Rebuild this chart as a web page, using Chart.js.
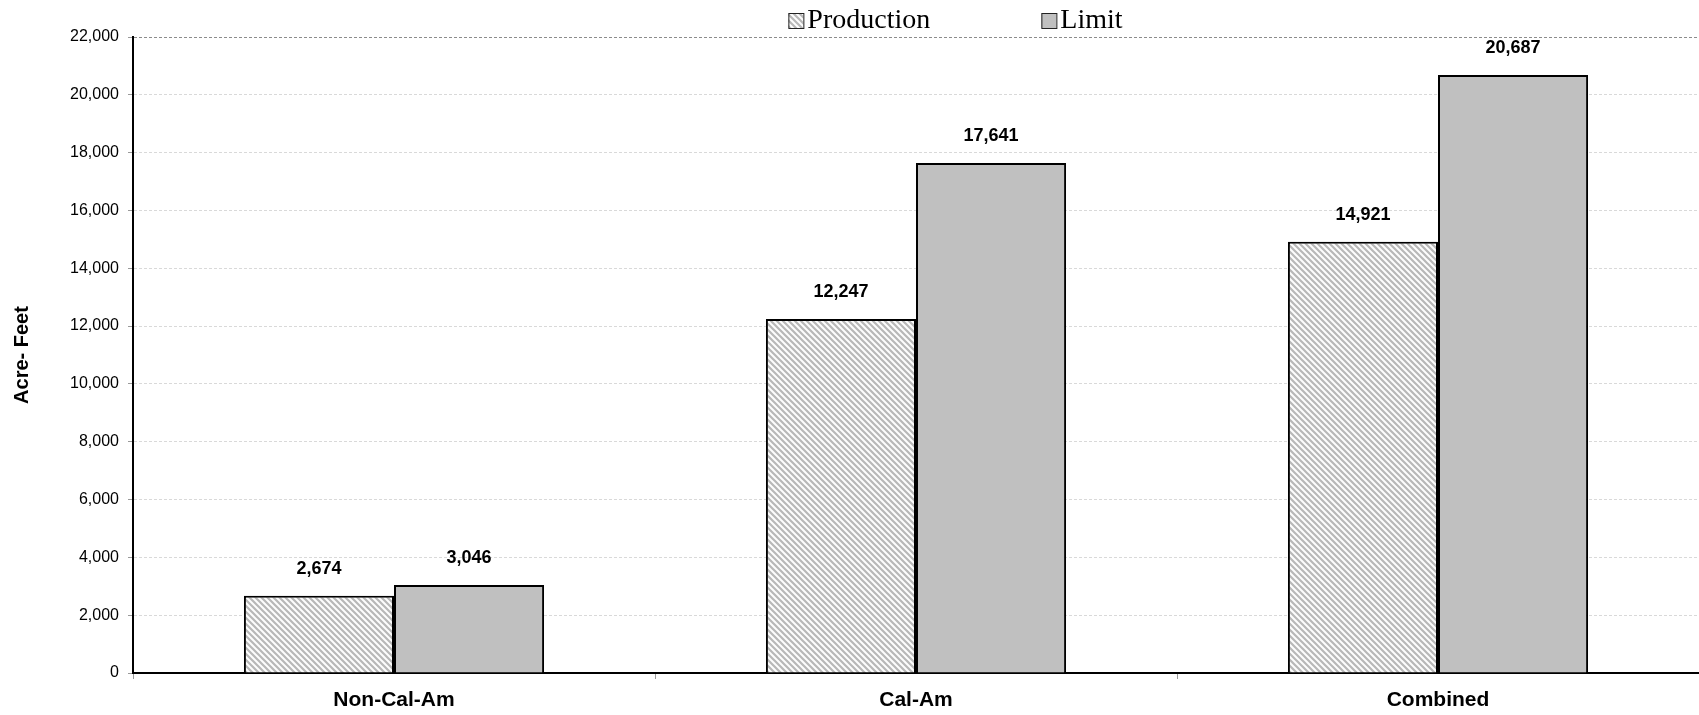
<!DOCTYPE html>
<html>
<head>
<meta charset="utf-8">
<script src="https://cdn.jsdelivr.net/npm/chart.js@4.4.1/dist/chart.umd.min.js"></script>
<style>
  html, body { margin: 0; padding: 0; background: #fff; }
  #wrap { width: 1699px; height: 715px; position: relative; }
</style>
</head>
<body>
<div id="wrap"><canvas id="acreChart"></canvas></div>
<script>
// chart data
const categories = ['Non-Cal-Am', 'Cal-Am', 'Combined'];
const production = [2674, 12247, 14921];
const limit = [3046, 17641, 20687];
const yTicks = [0, 2000, 4000, 6000, 8000, 10000, 12000, 14000, 16000, 18000, 20000, 22000];

// diagonal hatch used for the Production bars
function makeHatch() {
  const s = 6;
  const c = document.createElement('canvas');
  c.width = s; c.height = s;
  const g = c.getContext('2d');
  g.fillStyle = '#fdfdfd';
  g.fillRect(0, 0, s, s);
  g.strokeStyle = '#b8b8b8';
  g.lineWidth = 2.2;
  g.beginPath();
  g.moveTo(0, 0); g.lineTo(s, s);
  g.moveTo(-2, s - 2); g.lineTo(2, s + 2);
  g.moveTo(s - 2, -2); g.lineTo(s + 2, 2);
  g.stroke();
  return g.createPattern(c, 'repeat');
}

const ctx = document.getElementById('acreChart').getContext('2d');
const hatch = makeHatch();

// value labels above each bar
const barLabels = {
  id: 'barLabels',
  afterDatasetsDraw(chart) {
    const c = chart.ctx;
    c.save();
    c.font = 'bold 18px "Liberation Sans", Arial, sans-serif';
    c.fillStyle = '#000';
    c.textAlign = 'center';
    c.textBaseline = 'middle';
    chart.data.datasets.forEach((ds, i) => {
      chart.getDatasetMeta(i).data.forEach((bar, j) => {
        c.fillText(ds.data[j].toLocaleString('en-US'), bar.x, bar.y - 27);
      });
    });
    c.restore();
  }
};

// legend at the top, drawn in the old spreadsheet style
const topLegend = {
  id: 'topLegend',
  afterDraw(chart) {
    const c = chart.ctx;
    const area = chart.chartArea;
    let x = area.left + (area.right - area.left) * 0.4185;
    c.save();
    c.font = '28px "Liberation Serif", "Times New Roman", serif';
    c.textBaseline = 'middle';
    chart.data.datasets.forEach((ds, i) => {
      c.fillStyle = ds.backgroundColor;
      c.fillRect(x, 13, 15, 15);
      c.strokeStyle = '#222';
      c.lineWidth = 1;
      c.strokeRect(x + 0.5, 13.5, 15, 15);
      c.fillStyle = '#000';
      c.fillText(ds.label, x + 19, 21);
      x += 253;
    });
    c.restore();
  }
};

new Chart(ctx, {
  type: 'bar',
  data: {
    labels: categories,
    datasets: [
      {
        label: 'Production',
        data: production,
        backgroundColor: hatch,
        borderColor: '#000',
        borderWidth: 2,
        borderSkipped: 'bottom',
        barPercentage: 1.0,
        categoryPercentage: 0.575
      },
      {
        label: 'Limit',
        data: limit,
        backgroundColor: '#c0c0c0',
        borderColor: '#000',
        borderWidth: 2,
        borderSkipped: 'bottom',
        barPercentage: 1.0,
        categoryPercentage: 0.575
      }
    ]
  },
  options: {
    responsive: true,
    maintainAspectRatio: false,
    animation: false,
    layout: { padding: { top: 37, right: 0, left: 0, bottom: 0 } },
    plugins: {
      legend: { display: false },
      tooltip: { enabled: false }
    },
    scales: {
      x: {
        afterFit(scale) { scale.height = 42; },
        border: { color: '#000', width: 2 },
        grid: {
          offset: true,
          drawOnChartArea: false,
          tickLength: 6,
          color: '#999'
        },
        ticks: {
          padding: 9,
          color: '#000',
          font: { family: '"Liberation Sans", Arial, sans-serif', size: 21, weight: 'bold' }
        }
      },
      y: {
        min: 0,
        max: 22000,
        afterFit(scale) { scale.width = 133; },
        afterBuildTicks(scale) { scale.ticks = yTicks.map(v => ({ value: v })); },
        // border.dash dashes the gridlines in v4
        border: { color: '#000', width: 2, dash: [3, 2] },
        grid: {
          tickLength: 5,
          tickBorderDash: [],
          color: ctx2 => ctx2.tick && ctx2.tick.value === 22000 ? '#8c8c8c' : '#d9d9d9',
          tickColor: '#999',
          lineWidth: 1
        },
        title: {
          display: true,
          text: 'Acre- Feet',
          color: '#000',
          padding: { top: 10, bottom: 0 },
          font: { family: '"Liberation Sans", Arial, sans-serif', size: 20, weight: 'bold' }
        },
        ticks: {
          padding: 9,
          color: '#000',
          font: { family: '"Liberation Sans", Arial, sans-serif', size: 16 },
          callback: v => v.toLocaleString('en-US')
        }
      }
    }
  },
  plugins: [barLabels, topLegend]
});
</script>
</body>
</html>
